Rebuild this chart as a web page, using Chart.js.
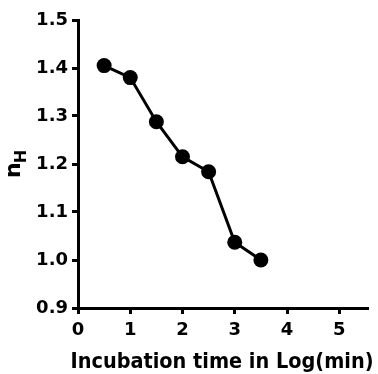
<!DOCTYPE html>
<html>
<head>
<meta charset="utf-8">
<script src="https://cdn.jsdelivr.net/npm/chart.js@4.4.0/dist/chart.umd.min.js"></script>
<style>
  html, body { margin: 0; padding: 0; background: #fff; }
  #wrap { width: 378px; height: 374px; }
</style>
</head>
<body>
<div id="wrap"><canvas id="chart" width="378" height="374"></canvas></div>
<script>
// incubation time (log min) and Hill coefficient
const logTime = [0.5, 1.0, 1.5, 2.0, 2.5, 3.0, 3.5];
const hillN = [1.405, 1.38, 1.288, 1.215, 1.184, 1.037, 1.0];
const xTicks = [0, 1, 2, 3, 4, 5];
const yTicks = [0.9, 1.0, 1.1, 1.2, 1.3, 1.4, 1.5];
const xTitle = "Incubation time in Log(min)";

const FONT = "'DejaVu Sans', sans-serif";

// axis titles: "nH" with subscript H, and the x title (a bit wider than the plot area)
const titlePlugin = {
  id: "axisTitles",
  afterDraw(chart) {
    const ctx = chart.ctx;
    ctx.save();
    ctx.fillStyle = "#000";
    ctx.textBaseline = "alphabetic";
    ctx.textAlign = "center";
    ctx.font = "bold 21px " + FONT;
    ctx.fillText(xTitle, 222, 368, 303);
    ctx.restore();

    ctx.save();
    ctx.translate(20, 178);
    ctx.rotate(-Math.PI / 2);
    ctx.fillStyle = "#000";
    ctx.textBaseline = "alphabetic";
    ctx.font = "bold 22px " + FONT;
    ctx.fillText("n", 0, 0);
    const w = ctx.measureText("n").width;
    ctx.font = "bold 16px " + FONT;
    ctx.fillText("H", w - 1, 6);
    ctx.restore();
  }
};

const ctx = document.getElementById("chart").getContext("2d");
new Chart(ctx, {
  type: "scatter",
  data: {
    datasets: [{
      data: logTime.map((x, i) => ({ x: x, y: hillN[i] })),
      showLine: true,
      borderColor: "#000",
      borderWidth: 3,
      backgroundColor: "#000",
      pointRadius: 7.5,
      pointHoverRadius: 7.5,
      pointBorderWidth: 0
    }]
  },
  options: {
    responsive: false,
    animation: false,
    layout: { padding: { top: 20, right: 10, left: 0, bottom: 0 } },
    plugins: {
      legend: { display: false },
      tooltip: { enabled: false }
    },
    scales: {
      x: {
        type: "linear",
        min: 0,
        max: 5.55,
        afterFit(scale) { scale.height = 66; },
        afterBuildTicks(scale) { scale.ticks = xTicks.map(v => ({ value: v })); },
        ticks: {
          stepSize: 1,
          includeBounds: false,
          color: "#000",
          padding: 6,
          maxRotation: 0,
          font: { family: FONT, size: 18, weight: "bold" }
        },
        grid: {
          drawOnChartArea: false,
          tickLength: 6,
          tickWidth: 3,
          tickColor: "#000"
        },
        border: { color: "#000", width: 3 }
      },
      y: {
        min: 0.9,
        max: 1.5,
        afterFit(scale) { scale.width = 78; },
        afterBuildTicks(scale) { scale.ticks = yTicks.map(v => ({ value: v })); },
        ticks: {
          color: "#000",
          padding: 4,
          callback: v => Number(v).toFixed(1),
          font: { family: FONT, size: 18, weight: "bold" }
        },
        grid: {
          drawOnChartArea: false,
          tickLength: 6,
          tickWidth: 3,
          tickColor: "#000"
        },
        border: { color: "#000", width: 3 }
      }
    }
  },
  plugins: [titlePlugin]
});
</script>
</body>
</html>
